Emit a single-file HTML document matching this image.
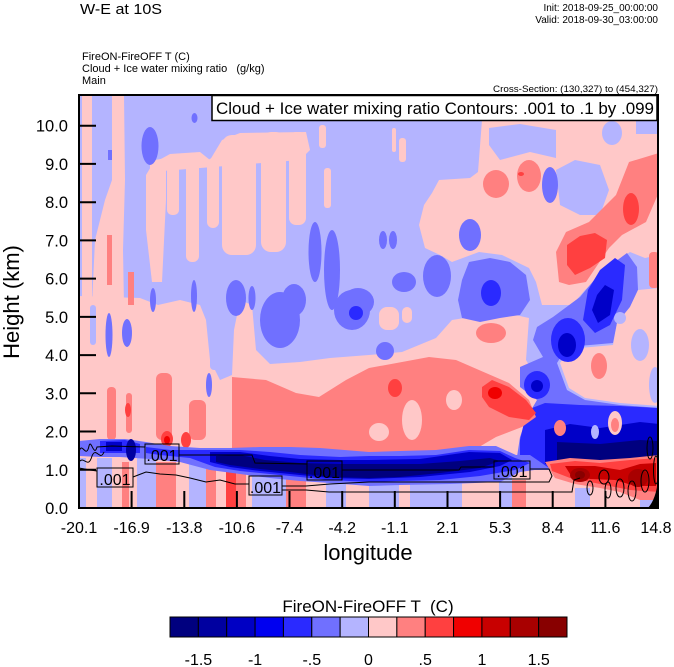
<!DOCTYPE html>
<html><head><meta charset="utf-8"><style>
html,body{margin:0;padding:0;background:#fff;}
svg{display:block;font-family:"Liberation Sans",Arial,sans-serif;}
</style></head><body>
<svg width="674" height="667" viewBox="0 0 674 667" xmlns="http://www.w3.org/2000/svg">
<defs><clipPath id="pc"><rect x="79" y="95" width="579" height="413"/></clipPath></defs>

<!-- header texts -->
<text x="80" y="14" font-size="15" textLength="82" lengthAdjust="spacingAndGlyphs">W-E at 10S</text>
<text x="658" y="11" font-size="10" text-anchor="end">Init: 2018-09-25_00:00:00</text>
<text x="658" y="23" font-size="10" text-anchor="end">Valid: 2018-09-30_03:00:00</text>
<text x="82" y="60" font-size="11">FireON-FireOFF T   (C)</text>
<text x="82" y="72" font-size="11" xml:space="preserve">Cloud + Ice water mixing ratio   (g/kg)</text>
<text x="82" y="84" font-size="11">Main</text>
<text x="658" y="92" font-size="9.5" text-anchor="end" textLength="165" lengthAdjust="spacingAndGlyphs">Cross-Section: (130,327) to (454,327)</text>

<g clip-path="url(#pc)">
<rect x="79" y="95" width="579" height="413" fill="#b4b4ff"/>

<!-- pink regions -->
<g fill="#ffc8c8">
<rect x="82" y="95" width="10" height="210"/>
<polygon points="112,95 124,95 125,180 123,250 124,305 92,305 95,240 105,200 112,180"/>
<polygon points="146,175 155,160 166,158 166,200 162,282 152,282 146,230"/>
<polygon points="150,165 170,154 200,152 210,160 222,140 240,133 306,132 310,150 300,160 150,172"/>
<rect x="167" y="155" width="12" height="60" rx="5"/>
<rect x="186" y="155" width="13" height="107" rx="6"/>
<rect x="207" y="158" width="12" height="70" rx="6"/>
<rect x="222" y="135" width="34" height="120" rx="10"/>
<rect x="261" y="132" width="25" height="120" rx="10"/>
<rect x="289" y="132" width="17" height="93" rx="7"/>
<rect x="319" y="125" width="7" height="23" rx="3"/>
<rect x="324" y="168" width="7" height="40" rx="3"/>
<rect x="392" y="128" width="4" height="24" rx="2"/>
<rect x="399" y="138" width="7" height="24" rx="3"/>
<!-- upper right big pink -->
<polygon points="482,120 659,120 659,255 645,258 630,252 615,262 600,275 585,290 572,305 542,305 536,282 529,268 502,255 479,252 452,262 440,255 425,248 419,225 424,205 432,193 439,180 470,178 478,172"/>
<!-- lower left big pink -->
<polygon points="79,296 140,298 158,305 180,300 200,305 206,320 210,360 220,380 232,375 234,330 240,300 252,305 256,350 270,364 300,362 330,358 369,355 402,352 436,338 452,320 502,312 529,318 526,360 536,377 546,400 542,427 526,440 516,457 79,460"/>
<rect x="379" y="307" width="20" height="23" rx="8"/>
<rect x="402" y="307" width="10" height="16" rx="5"/>
<rect x="79" y="458" width="580" height="50"/>
</g>

<!-- light blue patches inside pink -->
<g fill="#b4b4ff">
<polygon points="489,128 520,124 556,130 556,158 530,152 500,160 489,145"/>
<polygon points="556,170 575,160 600,165 609,190 600,215 580,215 560,205"/>
<ellipse cx="612" cy="133" rx="10" ry="12"/>
<rect x="636" y="120" width="23" height="14"/>
<polygon points="636,262 659,262 659,297 640,297"/>
<rect x="90" y="305" width="6" height="40" rx="3"/>
<rect x="210" y="330" width="10" height="40" rx="4"/>
<rect x="79" y="458" width="7" height="50"/>
<rect x="97" y="458" width="15" height="50"/>
<rect x="137" y="458" width="19" height="50"/>
<rect x="189" y="458" width="17" height="50"/>
<rect x="252" y="458" width="34" height="50"/>
<rect x="326" y="458" width="20" height="50"/>
<rect x="369" y="470" width="30" height="38"/>
<rect x="410" y="470" width="52" height="38"/>
<rect x="499" y="470" width="13" height="38"/>
<rect x="575" y="488" width="15" height="20"/>
<rect x="640" y="488" width="19" height="20"/>
</g>

<!-- medium blue blobs -->
<g fill="#7070ff">
<ellipse cx="150" cy="146" rx="8.5" ry="19"/>
<ellipse cx="194.5" cy="118" rx="3" ry="5"/>
<rect x="108" y="150" width="4" height="10"/>
<ellipse cx="315" cy="252" rx="6.5" ry="30"/>
<ellipse cx="332" cy="270" rx="8" ry="40"/>
<ellipse cx="236" cy="298" rx="10" ry="18"/>
<ellipse cx="294" cy="300" rx="12" ry="16"/>
<ellipse cx="358" cy="302" rx="16" ry="14"/>
<ellipse cx="194" cy="296" rx="3" ry="16"/>
<ellipse cx="153" cy="300" rx="3" ry="12"/>
<ellipse cx="252" cy="298" rx="3.5" ry="12"/>
<ellipse cx="550" cy="185" rx="8" ry="18"/>
<ellipse cx="470" cy="235" rx="11" ry="16"/>
<ellipse cx="383" cy="240" rx="4" ry="9"/>
<ellipse cx="393" cy="240" rx="4" ry="9"/>
<ellipse cx="404" cy="282" rx="12" ry="10"/>
<ellipse cx="437" cy="276" rx="14" ry="21"/>
<polygon points="469,262 490,258 510,262 526,275 530,300 520,315 500,318 480,322 462,318 458,300 462,280"/>
<ellipse cx="109" cy="335" rx="3.5" ry="22"/>
<ellipse cx="127" cy="333" rx="5" ry="14"/>
<ellipse cx="209" cy="385" rx="3" ry="12"/>
<ellipse cx="280" cy="320" rx="20" ry="28"/>
<ellipse cx="352" cy="310" rx="18" ry="20"/>
<ellipse cx="385" cy="351" rx="9" ry="9"/>
<!-- right diagonal blue band -->
<polygon points="627,253 637,267 638,290 630,307 617,323 613,343 567,347 557,363 567,390 585,400 620,405 659,408 659,470 515,470 520,437 527,417 537,400 520,387 520,367 543,357 533,340 537,327 553,317 580,297 600,273"/>
</g>

<!-- pink area right of the band -->
<polygon fill="#ffc8c8" points="630,307 638,290 659,288 659,406 620,403 585,398 569,388 560,363 569,349 613,345 617,323"/>
<g fill="#b4b4ff">
<ellipse cx="640" cy="345" rx="9" ry="16"/>
<ellipse cx="655" cy="385" rx="6" ry="18"/>
<ellipse cx="620" cy="318" rx="6" ry="6"/>
</g>
<g fill="#ff8080">
<ellipse cx="599" cy="366" rx="8" ry="13"/>
</g>

<!-- deep blue cores -->
<g fill="#2a2aff">
<polygon points="615,258 625,265 622,300 610,325 595,333 583,320 588,290 600,270"/>
<ellipse cx="568" cy="340" rx="17" ry="22"/>
<ellipse cx="537" cy="385" rx="13" ry="14"/>
<ellipse cx="491" cy="293" rx="10" ry="13"/>
<ellipse cx="356" cy="313" rx="7" ry="7"/>
<!-- lower right mass -->
<polygon points="520,440 527,410 545,403 580,405 620,406 659,408 659,466 520,468"/>
</g>
<g fill="#0000c8">
<polygon points="605,285 614,290 610,315 598,323 592,310 597,295"/>
<ellipse cx="567" cy="345" rx="9" ry="12"/>
<ellipse cx="537" cy="386" rx="6" ry="6"/>
<polygon points="545,430 570,424 600,428 640,422 659,424 659,463 545,464"/>
</g>
<polygon fill="#00007f" points="557,442 600,444 640,440 659,441 659,462 557,462"/>
<g fill="#ffc8c8">
<ellipse cx="615" cy="423" rx="7" ry="12"/>
</g>
<g fill="#b4b4ff">
<ellipse cx="595" cy="432" rx="4" ry="7"/>
</g>
<g fill="#ff8080">
<ellipse cx="560" cy="428" rx="6" ry="8"/>
<ellipse cx="615" cy="425" rx="4" ry="7"/>
</g>

<!-- salmon -->
<g fill="#ff8080">
<ellipse cx="496" cy="184" rx="13" ry="14"/>
<ellipse cx="529" cy="176" rx="12" ry="16"/>
<polygon points="629,162 659,153 659,192 646,222 622,235 609,248 586,282 569,285 559,282 556,252 566,232 589,222 616,195"/>
<rect x="649" y="252" width="10" height="36" rx="4"/>
<rect x="107" y="235" width="5" height="50"/>
<rect x="128" y="272" width="6" height="33"/>
<ellipse cx="491" cy="333" rx="15" ry="10"/>
<rect x="107" y="387" width="9" height="53" rx="4"/>
<rect x="126" y="393" width="6" height="40" rx="3"/>
<rect x="156" y="373" width="16" height="67" rx="6"/>
<rect x="189" y="400" width="17" height="40" rx="6"/>
<rect x="276" y="410" width="10" height="23" rx="4"/>
<polygon points="232,377 266,380 296,393 319,397 346,380 369,368 402,362 429,357 456,360 479,370 509,383 529,400 536,417 522,427 496,437 479,447 436,453 402,457 369,455 300,452 232,448"/>
<rect x="122" y="462" width="7" height="46"/>
<rect x="156" y="462" width="20" height="46"/>
<rect x="206" y="462" width="10" height="46"/>
<rect x="236" y="462" width="10" height="46"/>
<rect x="286" y="462" width="20" height="46"/>
<rect x="512" y="480" width="14" height="28"/>
</g>
<g fill="#ffc8c8">
<ellipse cx="454" cy="400" rx="8" ry="10"/>
<ellipse cx="412" cy="420" rx="10" ry="20"/>
<ellipse cx="379" cy="432" rx="10" ry="9"/>
</g>

<!-- red -->
<g fill="#ff4040">
<ellipse cx="631" cy="209" rx="8" ry="16"/>
<polygon points="567,245 580,236 595,233 607,240 605,258 590,268 575,275 567,265"/>
<polygon points="482,387 492,380 509,387 526,400 536,413 529,420 509,417 489,407 482,397"/>
<ellipse cx="395" cy="388" rx="7" ry="9"/>
<ellipse cx="167" cy="439" rx="6" ry="8"/>
<ellipse cx="186" cy="440" rx="5" ry="8"/>
<ellipse cx="128" cy="410" rx="3" ry="7"/>
<rect x="226" y="462" width="10" height="46"/>
<ellipse cx="521" cy="174" rx="3" ry="2"/>
</g>
<g fill="#f00000">
<ellipse cx="495" cy="393" rx="7" ry="6"/>
<ellipse cx="167" cy="440" rx="3" ry="4"/>
</g>

<!-- main low-level blue band -->
<polygon fill="#7070ff" points="79,441 100,439 125,439 146,442 170,446 200,448 230,448 260,447 290,447 320,448 369,452 400,451 436,450 469,446 496,446 516,455 530,455 549,468 520,472 500,482 450,484 400,485 369,486 330,483 300,481 270,478 240,474 210,470 180,462 150,459 120,457 100,457 79,456"/>
<polygon fill="#2a2aff" points="146,447 170,450 210,450 240,450 270,452 300,455 340,457 369,456 400,456 436,455 469,450 500,451 515,458 530,463 515,470 480,476 440,480 400,481 369,482 330,480 300,477 270,474 240,471 215,467 190,458 160,455 146,453"/>
<polygon fill="#2a2aff" points="100,441 125,440 140,444 140,453 100,453"/>
<polygon fill="#0000c8" points="106,442 122,442 122,451 106,451"/>
<polygon fill="#0000c8" points="210,452 240,452 270,456 300,459 340,460 369,460 420,459 469,452 500,453 512,460 500,466 470,472 420,477 369,479 330,478 290,474 260,471 230,467 210,462"/>
<polygon fill="#00007f" points="216,456 240,455 265,460 300,463 340,464 369,464 420,464 460,461 490,458 500,461 480,468 440,473 400,477 369,478 330,477 290,472 260,469 230,465 216,462"/>
<ellipse cx="131" cy="450" rx="5" ry="11" fill="#0000a0"/>

<!-- red band bottom right -->
<polygon fill="#ff8080" points="545,462 570,458 600,460 630,458 659,455 659,500 640,500 620,492 600,488 575,484 555,478"/>
<polygon fill="#ff4040" points="550,464 575,461 600,463 630,460 659,458 659,492 630,490 600,484 570,478 552,471"/>
<polygon fill="#c80000" points="565,466 595,466 620,470 640,464 656,463 656,486 635,486 615,480 590,479 570,474"/>
<ellipse cx="580" cy="475" rx="10" ry="7" fill="#a80000"/>
<ellipse cx="638" cy="478" rx="10" ry="9" fill="#a80000"/>
<ellipse cx="580" cy="475" rx="5" ry="4" fill="#880000"/>

<path d="M647,509 Q656,500 658,480 L660,509 Z" fill="#000"/>

<!-- contours -->
<g fill="none" stroke="#000" stroke-width="1">
<path d="M79,452 C82,440 86,460 89,446 C91,438 94,458 97,447 L112,446 L145,447"/>
<path d="M79,462 C84,455 88,470 92,456 C96,446 100,462 104,452"/>
<path d="M179,455 L252,455 L255,463 L307,464"/>
<path d="M342,470 L459,470 L461,467 L494,467"/>
<path d="M530,469 L549,469 L552,476 L549,482 L369,482 L330,484 L306,486 L282,486"/>
<path d="M79,468 L90,470 L97,471"/>
<path d="M133,477 L146,472 L160,474 L176,475 L190,478 L206,482 L220,480 L235,484 L249,484"/>
<path d="M282,490 L306,490 L329,492 L572,492 L574,480 L580,478"/>
<ellipse cx="590" cy="488" rx="3" ry="7"/>
<ellipse cx="604" cy="477" rx="5" ry="7"/>
<ellipse cx="608" cy="490" rx="3" ry="8"/>
<ellipse cx="620" cy="488" rx="4" ry="9"/>
<ellipse cx="632" cy="491" rx="4" ry="10"/>
<ellipse cx="645" cy="481" rx="4" ry="11"/>
<ellipse cx="650" cy="448" rx="3" ry="11"/>
<ellipse cx="656" cy="470" rx="2.5" ry="14"/>
</g>
<g fill="none" stroke="#000" stroke-width="1">
<rect x="145" y="444" width="34" height="20"/>
<rect x="97" y="468" width="36" height="19"/>
<rect x="249" y="476" width="33" height="19"/>
<rect x="307" y="461" width="35" height="19"/>
<rect x="494" y="461" width="36" height="18"/>
</g>
<g font-size="16" text-anchor="middle" fill="#000">
<text x="162" y="461">.001</text>
<text x="115" y="485">.001</text>
<text x="265.5" y="493">.001</text>
<text x="324.5" y="478">.001</text>
<text x="512" y="477">.001</text>
</g>
</g>

<!-- legend box -->
<rect x="212" y="95.5" width="445" height="25" fill="#fff" stroke="#000" stroke-width="1.5"/>
<text x="216" y="114" font-size="17" textLength="438" lengthAdjust="spacingAndGlyphs">Cloud + Ice water mixing ratio Contours: .001 to .1 by .099</text>

<rect x="79" y="95" width="579" height="413" fill="none" stroke="#000" stroke-width="2"/>

<g stroke="#000" stroke-width="2">
<line x1="79" y1="469.8" x2="96" y2="469.8"/>
<line x1="79" y1="431.5" x2="96" y2="431.5"/>
<line x1="79" y1="393.3" x2="96" y2="393.3"/>
<line x1="79" y1="355.1" x2="96" y2="355.1"/>
<line x1="79" y1="316.9" x2="96" y2="316.9"/>
<line x1="79" y1="278.6" x2="96" y2="278.6"/>
<line x1="79" y1="240.4" x2="96" y2="240.4"/>
<line x1="79" y1="202.2" x2="96" y2="202.2"/>
<line x1="79" y1="163.9" x2="96" y2="163.9"/>
<line x1="79" y1="125.7" x2="96" y2="125.7"/>
<line x1="131.6" y1="508" x2="131.6" y2="491"/>
<line x1="184.3" y1="508" x2="184.3" y2="491"/>
<line x1="236.9" y1="508" x2="236.9" y2="491"/>
<line x1="289.5" y1="508" x2="289.5" y2="491"/>
<line x1="342.2" y1="508" x2="342.2" y2="491"/>
<line x1="394.8" y1="508" x2="394.8" y2="491"/>
<line x1="447.5" y1="508" x2="447.5" y2="491"/>
<line x1="500.1" y1="508" x2="500.1" y2="491"/>
<line x1="552.7" y1="508" x2="552.7" y2="491"/>
<line x1="605.4" y1="508" x2="605.4" y2="491"/>
</g>

<g font-size="16.5" text-anchor="end" fill="#000">
<text x="68" y="514">0.0</text>
<text x="68" y="475.8">1.0</text>
<text x="68" y="437.5">2.0</text>
<text x="68" y="399.3">3.0</text>
<text x="68" y="361.1">4.0</text>
<text x="68" y="322.9">5.0</text>
<text x="68" y="284.6">6.0</text>
<text x="68" y="246.4">7.0</text>
<text x="68" y="208.2">8.0</text>
<text x="68" y="169.9">9.0</text>
<text x="68" y="131.7">10.0</text>
</g>
<g font-size="16" text-anchor="middle" fill="#000">
<text x="79" y="533">-20.1</text>
<text x="131.6" y="533">-16.9</text>
<text x="184.3" y="533">-13.8</text>
<text x="236.9" y="533">-10.6</text>
<text x="289.5" y="533">-7.4</text>
<text x="342.2" y="533">-4.2</text>
<text x="394.8" y="533">-1.1</text>
<text x="447.5" y="533">2.1</text>
<text x="500.1" y="533">5.3</text>
<text x="552.7" y="533">8.4</text>
<text x="605.4" y="533">11.6</text>
<text x="656" y="533">14.8</text>
</g>
<text x="368" y="560" font-size="22" text-anchor="middle">longitude</text>
<text transform="translate(19,302) rotate(-90)" font-size="22" text-anchor="middle">Height (km)</text>

<text x="368" y="612" font-size="17" text-anchor="middle" xml:space="preserve">FireON-FireOFF T  (C)</text>
<g stroke="#000" stroke-width="1">
<rect x="170" y="617" width="28.36" height="20" fill="#00007f"/>
<rect x="198.36" y="617" width="28.36" height="20" fill="#0000a0"/>
<rect x="226.71" y="617" width="28.36" height="20" fill="#0000c4"/>
<rect x="255.07" y="617" width="28.36" height="20" fill="#0000f0"/>
<rect x="283.43" y="617" width="28.36" height="20" fill="#2a2aff"/>
<rect x="311.79" y="617" width="28.36" height="20" fill="#7070ff"/>
<rect x="340.14" y="617" width="28.36" height="20" fill="#b4b4ff"/>
<rect x="368.5" y="617" width="28.36" height="20" fill="#ffc8c8"/>
<rect x="396.86" y="617" width="28.36" height="20" fill="#ff8080"/>
<rect x="425.21" y="617" width="28.36" height="20" fill="#ff4040"/>
<rect x="453.57" y="617" width="28.36" height="20" fill="#f00000"/>
<rect x="481.93" y="617" width="28.36" height="20" fill="#c80000"/>
<rect x="510.29" y="617" width="28.36" height="20" fill="#a80000"/>
<rect x="538.64" y="617" width="28.36" height="20" fill="#880000"/>
</g>
<g font-size="16" text-anchor="middle" fill="#000">
<text x="198.4" y="665">-1.5</text>
<text x="255.1" y="665">-1</text>
<text x="311.8" y="665">-.5</text>
<text x="368.5" y="665">0</text>
<text x="425.2" y="665">.5</text>
<text x="482" y="665">1</text>
<text x="538.7" y="665">1.5</text>
</g>
</svg>
</body></html>
